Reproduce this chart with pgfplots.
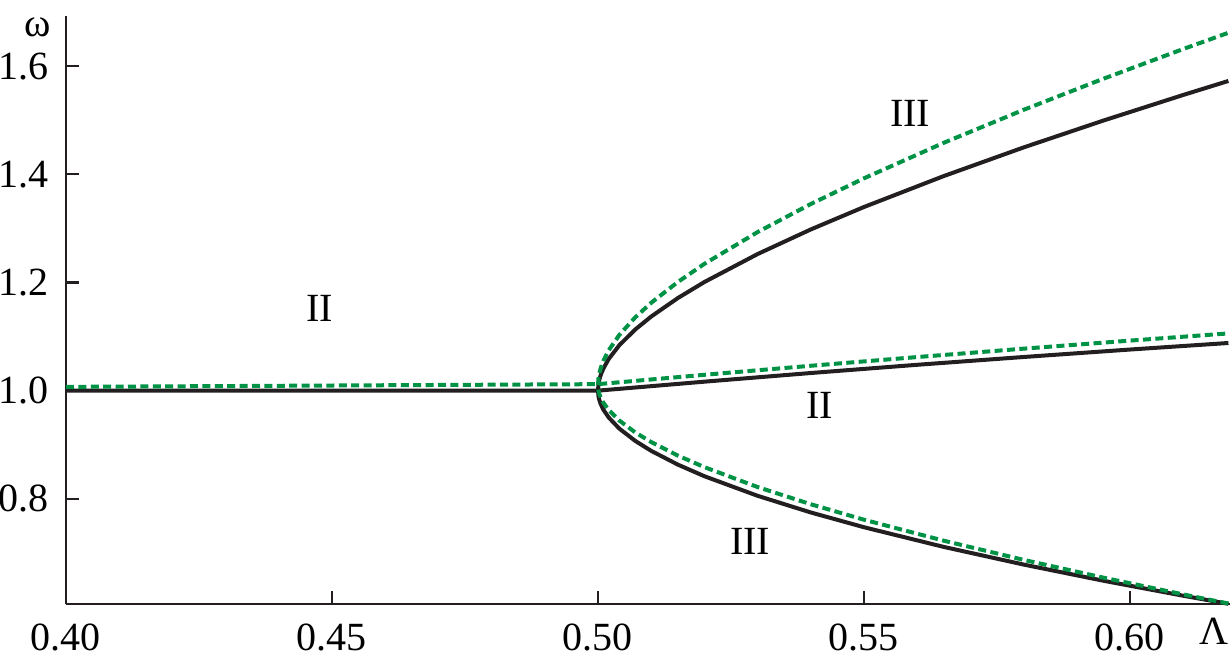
\documentclass[border=0pt]{standalone}
\usepackage{fontspec}
\setmainfont{Liberation Serif}
\usepackage{pgfplots}
\pgfplotsset{compat=1.18}
\definecolor{curveblack}{RGB}{35,31,32}
\definecolor{curvegreen}{RGB}{0,146,69}
\begin{document}
\fontsize{20}{24}\selectfont
\begin{tikzpicture}
\begin{axis}[
  scale only axis,
  width=582pt, height=294pt,
  at={(0,0)}, anchor=south west,
  xmin=0.40, xmax=0.6188,
  ymin=0.6056, ymax=1.6926,
  axis lines*=left,
  axis line style={curveblack, line width=1.1pt, -},
  tick style={curveblack, line width=1.1pt},
  tick align=inside,
  major tick length=6.5pt,
  xtick={0.40,0.45,0.50,0.55,0.60},
  ytick={0.8,1.0,1.2,1.4,1.6},
  xticklabels={0.40,0.45,0.50,0.55,0.60},
  yticklabels={0.8,1.0,1.2,1.4,1.6},
  xticklabel style={font=\fontsize{20}{24}\selectfont, yshift=-3pt},
  yticklabel style={font=\fontsize{20}{24}\selectfont, xshift=-2pt},
  /pgf/number format/assume math mode=true,
  clip=false,
]
% black: flat + middle branch
\addplot[curveblack, line width=2pt] coordinates {
(0.40,1.0) (0.50,1.0) (0.52,1.0166) (0.54,1.0326) (0.56,1.0478) (0.58,1.0622) (0.60,1.0760) (0.6185,1.0881)
};
% black: C-shaped branches
\addplot[curveblack, line width=2pt] coordinates {
(0.6185,0.6059) (0.61,0.6209) (0.595,0.6486) (0.58,0.6785) (0.565,0.7111) (0.55,0.7475) (0.54,0.7748) (0.53,0.8056) (0.52,0.8418) (0.515,0.8633) (0.51,0.8887) (0.507,0.9071) (0.504,0.9299) (0.502,0.9505) (0.501,0.9651) (0.5005,0.9753) (0.50025,0.9826) (0.5001,0.9890)
(0.50,1.0)
(0.5001,1.0126) (0.50025,1.0201) (0.5005,1.0286) (0.501,1.0407) (0.502,1.0583) (0.504,1.0839) (0.507,1.1130) (0.51,1.1370) (0.515,1.1711) (0.52,1.2008) (0.53,1.2525) (0.54,1.2980) (0.55,1.3395) (0.565,1.3967) (0.58,1.4496) (0.595,1.4993) (0.61,1.5466) (0.6185,1.5725)
};
% green: flat + middle branch
\addplot[curvegreen, line width=2pt, dash pattern=on 4pt off 2.2pt] coordinates {
(0.40,1.007) (0.50,1.012) (0.52,1.0293) (0.54,1.0460) (0.56,1.0621) (0.58,1.0776) (0.60,1.0925) (0.6185,1.1058)
};
% green: C-shaped branches
\addplot[curvegreen, line width=2pt, dash pattern=on 4pt off 2.2pt] coordinates {
(0.6185,0.6065) (0.61,0.6233) (0.595,0.6543) (0.58,0.6872) (0.565,0.7226) (0.55,0.7614) (0.54,0.7900) (0.53,0.8218) (0.52,0.8586) (0.515,0.8800) (0.51,0.9050) (0.507,0.9228) (0.504,0.9448) (0.502,0.9643) (0.501,0.9779) (0.5005,0.9874) (0.50025,0.9941) (0.5001,0.99995)
(0.50,1.010)
(0.5001,1.0239) (0.50025,1.0321) (0.5005,1.0415) (0.501,1.0549) (0.502,1.0744) (0.504,1.1029) (0.507,1.1355) (0.51,1.1624) (0.515,1.2008) (0.52,1.2344) (0.53,1.2931) (0.54,1.3450) (0.55,1.3925) (0.565,1.4582) (0.58,1.5191) (0.595,1.5766) (0.61,1.6315) (0.6185,1.6616)
};
\node at (axis cs:0.5587,1.513) {III};
\node at (axis cs:0.4477,1.152) {II};
\node at (axis cs:0.5417,0.972) {II};
\node at (axis cs:0.5286,0.722) {III};
\node at (rel axis cs:-0.024,0.98) {ω};
\node[anchor=center] at (rel axis cs:0.986,0) [yshift=-13.5pt] {Λ};
\end{axis}
\pgfresetboundingbox
\path[use as bounding box] (-33pt,-29pt) rectangle (582pt,302pt);
\end{tikzpicture}
\end{document}
